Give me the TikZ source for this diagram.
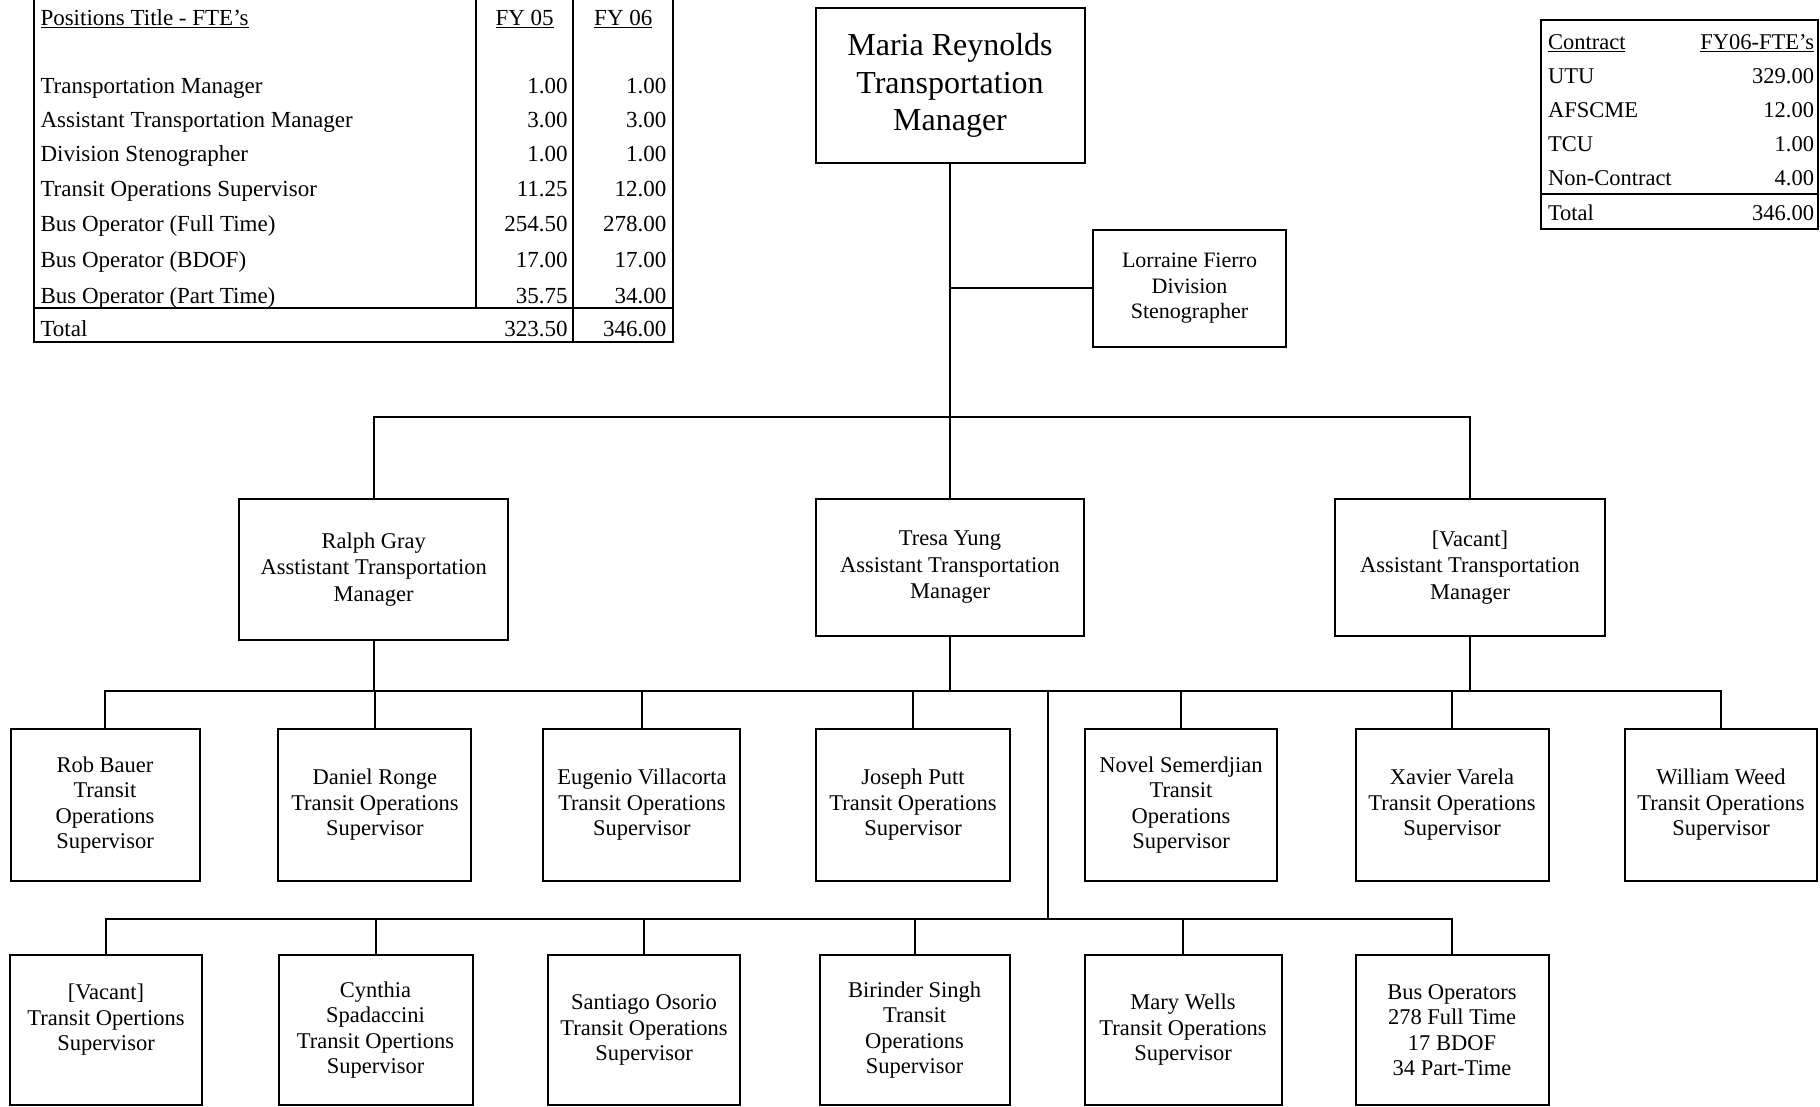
\documentclass[tikz,border=0pt]{standalone}
\usepackage{fontspec}
\setmainfont{Liberation Serif}
\begin{document}
\begin{tikzpicture}[x=1pt,y=-1pt,line width=2pt,
  box/.style={draw,line width=2pt,align=center,inner sep=0pt,font=\fontsize{22.5}{25.5}\selectfont},
  mbox/.style={box,font=\fontsize{22.5}{26.5}\selectfont},
  lab/.style={inner sep=0pt,anchor=base west,font=\fontsize{23}{27}\selectfont},
  num/.style={inner sep=0pt,anchor=base east,font=\fontsize{23}{27}\selectfont},
  hdr/.style={inner sep=0pt,anchor=base,font=\fontsize{23}{27}\selectfont},
  lab2/.style={inner sep=0pt,anchor=base west,font=\fontsize{22.5}{27}\selectfont},
  num2/.style={inner sep=0pt,anchor=base east,font=\fontsize{22.5}{27}\selectfont}]
\useasboundingbox (0,0) rectangle (1820,1107);

% ---------- Table 1 ----------
\draw (33.7,0) -- (33.7,342.4) -- (673.2,342.4) -- (673.2,0);
\draw (476,0) -- (476,307.6);
\draw (573.4,0) -- (573.4,342.4);
\draw (33.7,307.6) -- (673.2,307.6);
\node[lab] (t1h) at (39.5,26) {\underline{Positions Title - FTE's}};
\node[hdr] (t1a) at (524.6,26) {\underline{FY 05}};
\node[hdr] (t1b) at (623.3,26) {\underline{FY 06}};
\foreach \n/\y/\a/\b in {Transportation Manager/93.5/1.00/1.00,
  Assistant Transportation Manager/127.5/3.00/3.00,
  Division Stenographer/162/1.00/1.00,
  Transit Operations Supervisor/197/11.25/12.00,
  Bus Operator (Full Time)/232/254.50/278.00,
  Bus Operator (BDOF)/268/17.00/17.00,
  Bus Operator (Part Time)/303/35.75/34.00,
  Total/336/323.50/346.00}{
  \node[lab] at (39.5,\y) {\n};
  \node[num] at (568.7,\y) {\a};
  \node[num] at (667.4,\y) {\b};
}

% ---------- Table 2 ----------
\draw (1540.5,20) rectangle (1817.5,229.5);
\draw (1540.5,194) -- (1817.5,194);
\node[lab2] (t2h) at (1547,49.5) {\underline{Contract}};
\node[num2] (t2v) at (1815,49.5) {\underline{FY06-FTE's}};
\foreach \n/\y/\a in {UTU/83.5/329.00, AFSCME/118/12.00, TCU/151.5/1.00,
  Non-Contract/186/4.00, Total/220.5/346.00}{
  \node[lab2] at (1547,\y) {\n};
  \node[num2] at (1815,\y) {\a};
}

% ---------- Org chart ----------
\node[box,font=\fontsize{32}{37.7}\selectfont,minimum width=269pt,minimum height=155pt] (maria) at (950,85.5) {Maria Reynolds\\Transportation\\Manager};
\node[box,font=\fontsize{22}{25.5}\selectfont,minimum width=193pt,minimum height=117pt] (lorraine) at (1189.5,288.5) {Lorraine Fierro\\Division\\Stenographer};

\node[mbox,minimum width=269pt,minimum height=141pt] (ralph) at (373.7,569.5) {Ralph Gray\\Asstistant Transportation\\Manager};
\node[mbox,minimum width=268pt,minimum height=137pt] (tresa) at (950,567.5) {Tresa Yung\\Assistant Transportation\\Manager};
\node[mbox,minimum width=270pt,minimum height=137pt] (vacatm) at (1470,567.5) {[Vacant]\\Assistant Transportation\\Manager};

\node[box,minimum width=189pt,minimum height=152pt] (rob) at (105,805) {Rob Bauer\\Transit\\Operations\\Supervisor};
\node[box,minimum width=193pt,minimum height=152pt] (daniel) at (374.9,805) {Daniel Ronge\\Transit Operations\\Supervisor};
\node[box,minimum width=197pt,minimum height=152pt] (eugenio) at (641.9,805) {Eugenio Villacorta\\Transit Operations\\Supervisor};
\node[box,minimum width=194pt,minimum height=152pt] (joseph) at (913,805) {Joseph Putt\\Transit Operations\\Supervisor};
\node[box,minimum width=192pt,minimum height=152pt] (novel) at (1181,805) {Novel Semerdjian\\Transit\\Operations\\Supervisor};
\node[box,minimum width=193pt,minimum height=152pt] (xavier) at (1452,805) {Xavier Varela\\Transit Operations\\Supervisor};
\node[box,minimum width=192pt,minimum height=152pt] (william) at (1721,805) {William Weed\\Transit Operations\\Supervisor};

\node[box,minimum width=192pt,minimum height=150pt] (vacts) at (106,1030) {[Vacant]\\Transit Opertions\\Supervisor\\\mbox{}};
\node[box,minimum width=194pt,minimum height=150pt] (cynthia) at (375.5,1030) {Cynthia\\Spadaccini\\Transit Opertions\\Supervisor};
\node[box,minimum width=192pt,minimum height=150pt] (santiago) at (644,1030) {Santiago Osorio\\Transit Operations\\Supervisor};
\node[box,minimum width=190pt,minimum height=150pt] (birinder) at (914.6,1030) {Birinder Singh\\Transit\\Operations\\Supervisor};
\node[box,minimum width=197pt,minimum height=150pt] (mary) at (1183,1030) {Mary Wells\\Transit Operations\\Supervisor};
\node[box,minimum width=193pt,minimum height=150pt] (busop) at (1452,1030) {Bus Operators\\278 Full Time\\17 BDOF\\34 Part-Time};

\coordinate (b1) at (0,416.7);
\coordinate (b2) at (0,690.6);
\coordinate (j2) at (1048,690.6);
\coordinate (j3) at (1048,919.3);

\draw (maria.south) -- (tresa.north);
\draw (lorraine.west) -- (maria.south |- lorraine.west);
\draw (ralph.north) |- (vacatm.north |- b1) -- (vacatm.north);
\draw (rob.north) |- (william.north |- b2) -- (william.north);
\foreach \m in {ralph,tresa,vacatm}{\draw (\m.south) -- (\m.south |- b2);}
\foreach \c in {daniel,eugenio,joseph,novel,xavier}{\draw (\c.north) -- (\c.north |- b2);}
\draw (j2) -- (j3);
\draw (vacts.north) |- (busop.north |- j3) -- (busop.north);
\foreach \c in {cynthia,santiago,birinder,mary}{\draw (\c.north) -- (\c.north |- j3);}
\end{tikzpicture}
\end{document}
